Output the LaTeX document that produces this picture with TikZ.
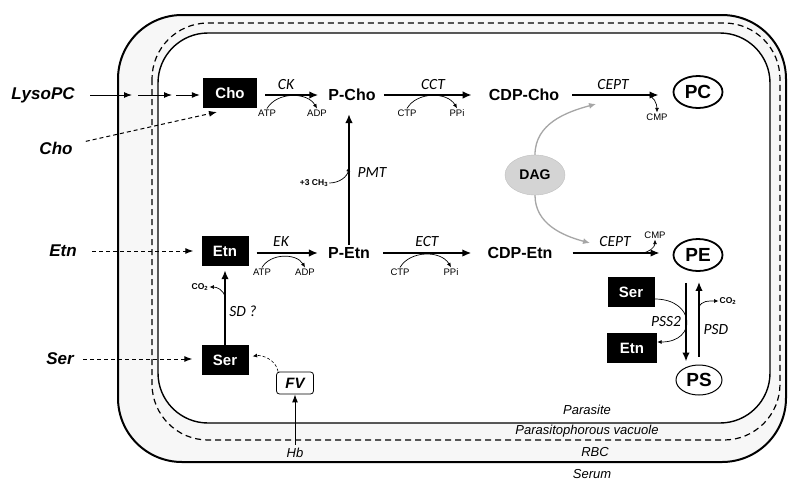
\documentclass[tikz,border=0pt]{standalone}
\usepackage{fontspec}
\setmainfont{Liberation Sans}
\newfontfamily\enzfont{Carlito}
\usetikzlibrary{positioning,arrows.meta,shapes.geometric}

\begin{document}
\begin{tikzpicture}[x=1pt,y=-1pt,
		met/.style={inner sep=2pt,font=\fontsize{16}{18}\selectfont\bfseries},
		blk/.style={fill=black,text=white,inner sep=0pt,minimum width=47,minimum height=30,font=\fontsize{15}{17}\selectfont\bfseries},
		lipid/.style={ellipse,draw,line width=1.8pt,inner sep=0pt,minimum width=49,minimum height=32,font=\fontsize{19}{21}\selectfont\bfseries},
		outside/.style={font=\fontsize{17}{19}\selectfont\bfseries\itshape},
		enz/.style={font=\enzfont\fontsize{15.5}{17}\selectfont\itshape},
		cof/.style={inner sep=1pt,font=\fontsize{9.5}{11}\selectfont},
		cofb/.style={inner sep=1pt,font=\fontsize{8.5}{10}\selectfont\bfseries},
		memb/.style={font=\fontsize{13}{15}\selectfont\itshape},
		main/.style={line width=1.7pt,-{Latex[length=9pt,width=7.5pt]}},
		entry/.style={line width=1pt,-{Latex[length=8pt,width=6pt]}},
		uptake/.style={line width=1pt,dash pattern=on 4pt off 3pt,-{Latex[length=8pt,width=6pt]}},
		side/.style={line width=0.7pt,-{Latex[length=4.5pt,width=4pt]}},
		dagarr/.style={black!35,line width=1.3pt,-{Latex[length=7pt,width=6pt]}}
	]
	
	\useasboundingbox (0,0) rectangle (788,480);
	
	% RBC, vacuole and parasite membranes
	\filldraw[fill=black!3,line width=2pt,rounded corners=64] (118,15) rectangle (786,462);
	\draw[line width=1.2pt,dash pattern=on 6pt off 4pt,rounded corners=56] (152,23) rectangle (780,440);
	\filldraw[fill=white,line width=1.4pt,rounded corners=50] (158,33) rectangle (770,423);
	
	\node[memb] (parasite) at (587,410) {Parasite};
	\node[memb] (pv) at (587,431) {Parasitophorous vacuole};
	\node[memb] (rbc) at (595,452) {RBC};
	\node[memb] (serum) at (592,474) {Serum};
	
	\foreach \n/\x/\y/\t in {lysopc/43/95/LysoPC, choout/56/148/Cho, etnout/63/251/Etn, serout/60/359/Ser}
	{
		\node[outside] (\n) at (\x,\y) {\t};
	}
	
	\node[blk,minimum width=54] (cho) at (230,93) {Cho};
	\node[blk] (etn) at (225,251) {Etn};
	\node[blk] (ser) at (225,360) {Ser};
	\node[blk] (ser2) at (631,292) {Ser};
	\node[blk,minimum width=50] (etn2) at (632,348) {Etn};
	
	\node[met] (pcho) at (352,95) {P-Cho};
	\node[met] (cdpcho) at (524,95) {CDP-Cho};
	\node[met] (petn) at (349,253) {P-Etn};
	\node[met] (cdpetn) at (520,253) {CDP-Etn};
	
	\node[lipid] (pc) at (698,92) {PC};
	\node[lipid] (pe) at (698,255) {PE};
	\node[lipid,line width=1pt,minimum width=46,minimum height=30] (ps) at (699,380) {PS};
	
	\node[ellipse,fill=black!17,draw=black!25,minimum width=60,minimum height=40,inner sep=0pt,font=\fontsize{14}{16}\selectfont\bfseries] (dag) at (535,175) {DAG};
	
	\node[draw,rounded corners=3,line width=0.8pt,minimum width=37,minimum height=22,inner sep=0pt,font=\fontsize{15}{17}\selectfont\bfseries\itshape] (fv) at (295,383) {FV};
	\node[memb] (hb) at (295,453) {Hb};
	
	% enzymes
	\foreach \n/\x/\y/\t in {ck/286/85/CK, cct/433/85/CCT, cepta/613/85/CEPT, ek/281/242/EK, ect/427/242/ECT, ceptb/615/242/CEPT, pmt/372/173/PMT, sd/243/311/SD ?, pss/666/322/PSS2, psd/716/330/PSD}
	{
		\node[enz] (\n) at (\x,\y) {\t};
	}
	
	% cofactors
	\foreach \n/\x/\y/\t in {atpa/267/113/ATP, adpa/317/113/ADP, ctpa/407/113/CTP, ppia/457/113/PPi, atpb/262/272/ATP, adpb/305/272/ADP, ctpb/400/272/CTP, ppib/451/272/PPi, cmpa/657/117/CMP, cmpb/655/235/CMP}
	{
		\node[cof] (\n) at (\x,\y) {\t};
	}
	\node[cofb] (ch3) at (314,183) {+3 CH\textsubscript{3}};
	\node[cofb] (co2a) at (200,287) {CO\textsubscript{2}};
	\node[cofb] (co2b) at (728,301) {CO\textsubscript{2}};
	
	% entry into the parasite
	\coordinate (ly1) at (132,95);
	\coordinate (ly2) at (138,95);
	\coordinate (ly3) at (172,95);
	\coordinate (ly4) at (176,95);
	\coordinate (choin) at (217,112);
	\draw[entry,shorten <=12] (lysopc) -- (ly1);
	\draw[entry] (ly2) -- (ly3);
	\draw[entry,shorten >=3] (ly4) -- (ly4 -| cho.west);
	\draw[uptake,shorten <=10] (choout) -- (choin);
	\draw[uptake,shorten <=12,shorten >=8] (etnout.east) -- (etnout.east -| etn.west);
	\draw[uptake,shorten <=6,shorten >=9] (serout.east) -- (serout.east -| ser.west);
	\draw[entry] (hb) -- (fv);
	\draw[line width=0.6pt,densely dashed,-{Latex[length=4.5pt,width=4pt]},shorten >=4] ([xshift=2]fv.north west) to[out=100,in=10] ([yshift=3]ser.east);
	
	% Kennedy pathways
	\draw[main,shorten <=8,shorten >=8] (cho.east |- pcho) -- (pcho.west);
	\draw[main,shorten <=6,shorten >=15] (pcho.east) -- (pcho.east -| cdpcho.west);
	\draw[main,shorten <=11,shorten >=14] (cdpcho.east) -- (cdpcho.east -| pc.west);
	\draw[main,shorten <=8,shorten >=8] (etn.east |- petn) -- (petn.west);
	\draw[main,shorten <=11,shorten >=14] (petn.east) -- (petn.east -| cdpetn.west);
	\draw[main,shorten <=18,shorten >=13] (cdpetn.east) -- (cdpetn.east -| pe.west);
	\draw[main,shorten >=11] (petn.north) -- (petn.north |- pcho.south);
	\draw[main,shorten >=4] (ser.north) -- (etn.south);
	
	% PE / PS exchange
	\draw[main,shorten <=11,shorten >=3] ([xshift=-12]pe.south) -- ([xshift=-13]ps.north);
	\draw[main,shorten <=8,shorten >=10] (ps.north) -- (ps.north |- pe.south);
	\draw[side] ([yshift=-7]ser2.east) to[out=0,in=0,looseness=2.4] ([yshift=6]etn2.east);
	
	% side products
	\foreach \a/\b in {atpa/adpa, ctpa/ppia, atpb/adpb, ctpb/ppib}
	{
		\draw[side] (\a.north) to[out=60,in=120] (\b.north);
	}
	\coordinate (cepta-out) at (646,95);
	\coordinate (ceptb-out) at (641,253);
	\coordinate (pmt-in) at (349,167);
	\coordinate (sd-out) at (225,297);
	\coordinate (psd-out) at (699,308);
	\draw[side] (cepta-out) to[out=0,in=90] (cmpa.north);
	\draw[side] (ceptb-out) to[out=0,in=-90] (cmpb.south);
	\draw[side] (ch3.east) to[out=0,in=-100] (pmt-in);
	\draw[side] (sd-out) to[out=100,in=0] (co2a.east);
	\draw[side] (psd-out) to[out=80,in=180] (co2b.west);
	
	% DAG
	\coordinate (dagtop) at (596,104);
	\coordinate (dagbot) at (590,243);
	\draw[dagarr] (dag.north) to[out=90,in=195] (dagtop);
	\draw[dagarr] (dag.south) to[out=-90,in=165] (dagbot);
	
\end{tikzpicture}
\end{document}
